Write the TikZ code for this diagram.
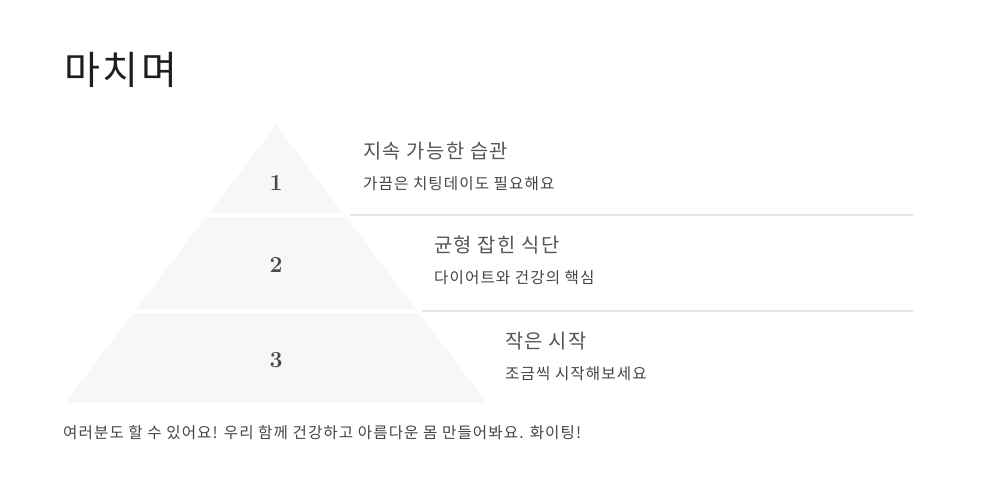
\documentclass[tikz,border=0pt]{standalone}
\usepackage{fontspec}
\newfontfamily\kofont[LetterSpace=7]{Noto Sans CJK KR}
\usepackage{xcolor}
\definecolor{colorTier}{HTML}{F8F6F6}
\definecolor{colorRule}{HTML}{E6E6E6}
\definecolor{colorTitle}{HTML}{1E1E1E}
\definecolor{colorHead}{HTML}{555555}
\definecolor{colorSub}{HTML}{444444}
\definecolor{colorNum}{HTML}{4A4A4A}
\usetikzlibrary{positioning}
\tikzset{
  heading/.style={anchor=west, inner sep=0pt, text=colorHead, font=\kofont\fontsize{19.8}{20}\selectfont},
  subline/.style={anchor=west, inner sep=0pt, text=colorSub, font=\kofont\fontsize{15.6}{16}\selectfont},
  tiernum/.style={inner sep=0pt, text=colorNum, font=\bfseries\fontsize{23}{23}\selectfont},
  separator/.style={colorRule, line width=2pt},
  gap/.style={white, line width=4pt},
}

\begin{document}
\begin{tikzpicture}[x=1pt, y=-1pt]
\useasboundingbox (0,0) rectangle (981,490);
% title
\node[anchor=west, inner sep=0pt, text=colorTitle, font=\kofont\fontsize{39}{39}\selectfont] (title) at (64,70) {마치며};
% pyramid
\coordinate (apex) at (276,125);
\coordinate (baseL) at (65,403);
\coordinate (baseR) at (487,403);
\fill[colorTier] (apex) -- (baseR) -- (baseL) -- cycle;
\draw[gap] (190,215) -- (362,215);
\draw[gap] (120,311) -- (434,311);
\node[tiernum] (n1) at (276,183) {1};
\node[tiernum] (n2) at (276,265) {2};
\node[tiernum] (n3) at (276,360) {3};
% separators
\coordinate (r1a) at (350,215);
\coordinate (r1b) at (913,215);
\coordinate (r2a) at (422,311);
\coordinate (r2b) at (913,311);
\draw[separator] (r1a) -- (r1b);
\draw[separator] (r2a) -- (r2b);
% labels
\node[heading] (h1) at (363,151) {지속 가능한 습관};
\node[subline] (s1) at ([yshift=-33pt]h1.west) {가끔은 치팅데이도 필요해요};
\node[heading] (h2) at (434,245) {균형 잡힌 식단};
\node[subline] (s2) at ([yshift=-33pt]h2.west) {다이어트와 건강의 핵심};
\node[heading] (h3) at (505,341) {작은 시작};
\node[subline] (s3) at ([yshift=-33pt]h3.west) {조금씩 시작해보세요};
% closing line
\node[subline] (foot) at (63,433) {여러분도 할 수 있어요! 우리 함께 건강하고 아름다운 몸 만들어봐요. 화이팅!};
\end{tikzpicture}
\end{document}
